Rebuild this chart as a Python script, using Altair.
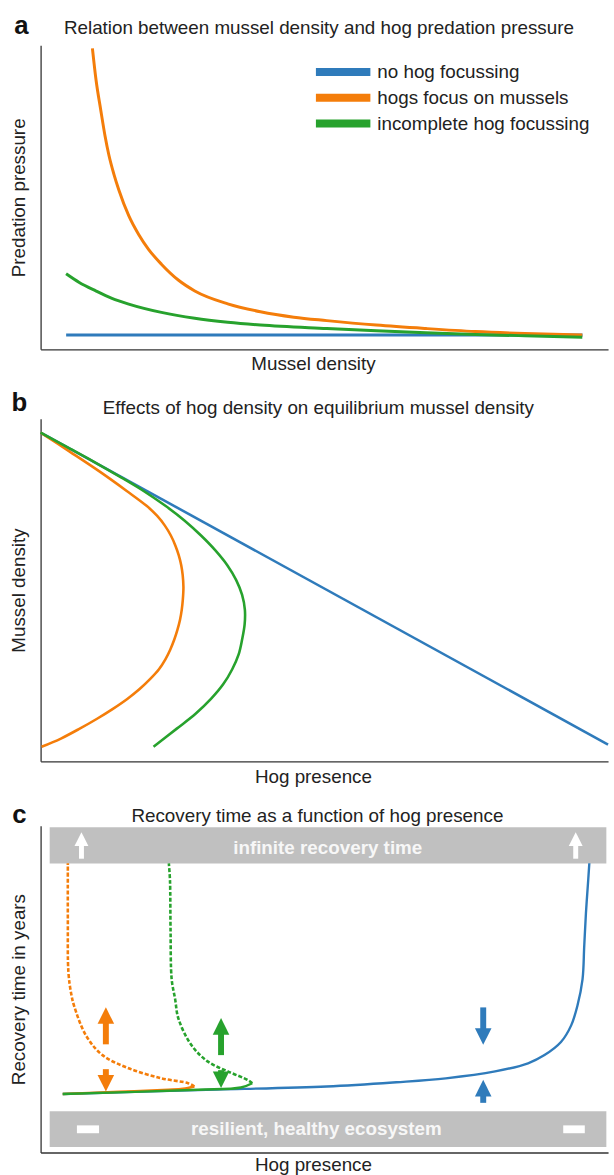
import altair as alt
import pandas as pd

FONT = "Liberation Sans"
TXT = "#222222"
FS = 19
BLUE, ORANGE, GREEN = "#2f7bbb", "#f47d0a", "#27a22d"
BAND = "#c0c0c0"
SERIES = ["no hog focussing", "hogs focus on mussels", "incomplete hog focussing"]
COLORS = [BLUE, ORANGE, GREEN]

# ---------------- panel a: predation pressure vs mussel density ----------------
a_blue_x = [0.45, 9.55]
a_blue_y = [0.47, 0.47]
a_orange_x = [0.913, 0.977, 1.059, 1.134, 1.204, 1.291, 1.379, 1.553, 1.728, 1.902, 2.129, 2.426,
              2.717, 3.298, 3.874, 4.462, 5.044, 5.916, 6.789, 7.661, 8.534, 9.546]
a_orange_y = [9.902, 8.860, 7.883, 7.036, 6.384, 5.765, 5.244, 4.397, 3.779, 3.290, 2.801, 2.280,
              1.922, 1.498, 1.238, 1.059, 0.945, 0.798, 0.684, 0.586, 0.521, 0.472]
a_green_x = [0.449, 0.681, 0.972, 1.257, 1.553, 2.129, 2.717, 3.298, 3.874, 5.044, 5.916, 6.789,
             7.661, 8.534, 9.546]
a_green_y = [2.485, 2.199, 1.922, 1.678, 1.489, 1.215, 1.020, 0.890, 0.798, 0.684, 0.609, 0.544,
             0.489, 0.446, 0.401]

# ---------------- panel b: equilibrium mussel density vs hog presence ----------------
b_blue_x = [0.0, 10.0]
b_blue_y = [9.595, 0.49]
b_orange_x = [0.000, 0.506, 1.030, 1.518, 1.867, 2.051, 2.190, 2.295, 2.374, 2.435, 2.478, 2.504,
              2.517, 2.506, 2.487, 2.457, 2.412, 2.356, 2.286, 2.199, 2.086, 1.928, 1.745, 1.527,
              1.274, 0.995, 0.689, 0.358, 0.017]
b_orange_y = [9.595, 9.046, 8.468, 7.890, 7.457, 7.168, 6.879, 6.590, 6.301, 6.012, 5.723, 5.434,
              5.087, 4.711, 4.422, 4.133, 3.844, 3.555, 3.266, 2.977, 2.688, 2.399, 2.110, 1.821,
              1.532, 1.243, 0.954, 0.665, 0.425]
b_green_x = [0.000, 0.445, 0.925, 1.379, 1.815, 2.199, 2.539, 2.827, 3.080, 3.290, 3.447, 3.551,
             3.600, 3.595, 3.551, 3.490, 3.377, 3.220, 3.002, 2.731, 2.400, 1.990]
b_green_y = [9.595, 9.191, 8.757, 8.324, 7.890, 7.457, 7.023, 6.590, 6.156, 5.723, 5.289, 4.855,
             4.422, 3.988, 3.555, 3.121, 2.688, 2.254, 1.821, 1.387, 0.954, 0.425]

# ---------------- panel c: recovery time vs hog presence ----------------
c_blue_x = [0.39, 2.77, 5.04, 6.27, 7.14, 8.01, 8.59, 8.88, 9.17, 9.35, 9.46, 9.55, 9.58, 9.61, 9.65, 9.67]
c_blue_y = [1.79, 1.91, 2.02, 2.15, 2.27, 2.48, 2.73, 2.98, 3.38, 3.89, 4.49, 5.30, 6.31, 7.32, 8.33, 8.85]
c_orange_stable_x = [0.39, 1.38, 2.25, 2.51, 2.71]
c_orange_stable_y = [1.79, 1.86, 1.92, 1.95, 2.02]
c_orange_unstable_x = [2.71, 2.60, 2.13, 1.55, 1.09, 0.80, 0.59, 0.54, 0.49, 0.48, 0.48]
c_orange_unstable_y = [2.02, 2.12, 2.27, 2.58, 2.98, 3.58, 4.49, 4.85, 5.52, 7.12, 8.85]
c_green_stable_x = [0.39, 2.77, 3.53, 3.73]
c_green_stable_y = [1.79, 1.92, 1.99, 2.12]
c_green_unstable_x = [3.73, 3.65, 3.30, 2.95, 2.66, 2.43, 2.37, 2.31, 2.29, 2.28, 2.26]
c_green_unstable_y = [2.12, 2.22, 2.48, 2.78, 3.28, 4.09, 4.70, 5.30, 6.82, 8.33, 8.85]

band_labels = ["infinite recovery time", "resilient, healthy ecosystem"]
band_x0 = [0.16, 0.16]
band_x1 = [9.97, 9.97]
band_y0 = [8.84, 0.17]
band_y1 = [9.95, 1.26]
band_text_x = [5.06, 4.86]
band_text_y = [9.33, 0.71]

# colored arrows: x, tail, head base, tip, direction
arrow_x = [1.15, 1.15, 3.18, 3.18, 7.80, 7.80]
arrow_tail = [3.31, 2.55, 2.98, 2.52, 4.44, 1.52]
arrow_base = [3.94, 2.37, 3.61, 2.48, 3.79, 1.72]
arrow_tip = [4.44, 1.87, 4.11, 1.97, 3.31, 2.22]
arrow_dir = ["up", "down", "up", "down", "down", "up"]
arrow_col = [ORANGE, ORANGE, GREEN, GREEN, BLUE, BLUE]

# white arrows in the "infinite" band and white dashes in the "resilient" band
white_arrow_x = [0.72, 9.43]
white_arrow_tail = [8.99, 8.99]
white_arrow_base = [9.38, 9.38]
white_arrow_tip = [9.80, 9.80]
dash_x0 = [0.64, 9.21]
dash_x1 = [1.03, 9.59]
dash_y0 = [0.59, 0.59]
dash_y1 = [0.83, 0.83]

UP = "M -1 1 L 0 -1 L 1 1 Z"
DOWN = "M -1 -1 L 0 1 L 1 -1 Z"


def rows(name, xs, ys, col=None, dashed=0):
    return [{"series": name, "i": i, "x": x, "y": y, "col": col, "dashed": dashed}
            for i, (x, y) in enumerate(zip(xs, ys))]


SC = alt.Scale(domain=[0, 10], nice=False, zero=False)


def xaxis(title, pad):
    return alt.Axis(title=title, labels=False, ticks=False, grid=False, domainColor="#333333",
                    domainWidth=1.3, titleFont=FONT, titleFontSize=FS, titleFontWeight="normal",
                    titleColor=TXT, titlePadding=pad, titleX=275, titleAlign="center")


def yaxis(title, pad):
    return alt.Axis(title=title, labels=False, ticks=False, grid=False, domainColor="#333333",
                    domainWidth=1.3, titleFont=FONT, titleFontSize=FS, titleFontWeight="normal",
                    titleColor=TXT, titlePadding=pad)


def header(letter, lx, ly, title, tx, ty):
    lab = alt.Chart(pd.DataFrame({"t": [letter]})).mark_text(
        font=FONT, fontSize=26, fontWeight="bold", color="#111111", baseline="middle", align="center"
    ).encode(x=alt.value(lx), y=alt.value(ly), text="t:N")
    tit = alt.Chart(pd.DataFrame({"t": [title]})).mark_text(
        font=FONT, fontSize=FS, color=TXT, baseline="middle", align="center"
    ).encode(x=alt.value(tx), y=alt.value(ty), text="t:N")
    return [lab, tit]


W = 573

# ---- panel a
a_df = pd.DataFrame(rows(SERIES[0], a_blue_x, a_blue_y) + rows(SERIES[1], a_orange_x, a_orange_y)
                    + rows(SERIES[2], a_green_x, a_green_y))
AXa = xaxis("Mussel density", 5.5)
AYa = yaxis("Predation pressure", 12)
a_lines = alt.Chart(a_df).mark_line(strokeWidth=3, interpolate="monotone").encode(
    x=alt.X("x:Q", scale=SC, axis=AXa),
    y=alt.Y("y:Q", scale=SC, axis=AYa),
    color=alt.Color("series:N", scale=alt.Scale(domain=SERIES, range=COLORS),
                    legend=alt.Legend(title=None, orient="none", legendX=274, legendY=18,
                                      symbolType="stroke", symbolSize=3025, symbolStrokeWidth=8,
                                      labelFont=FONT, labelFontSize=FS, labelColor=TXT,
                                      labelOffset=3, labelLimit=400, clipHeight=18, rowPadding=7,
                                      padding=0, symbolOpacity=1)),
    order=alt.Order("i:Q"),
)
panel_a = alt.layer(a_lines, *header("a", -19.5, -19, "Relation between mussel density and hog predation pressure",
                                     281, -17)).properties(width=W, height=307)

# ---- panel b
b_df = pd.DataFrame(rows("blue", b_blue_x, b_blue_y, BLUE) + rows("orange", b_orange_x, b_orange_y, ORANGE)
                    + rows("green", b_green_x, b_green_y, GREEN))
AXb = xaxis("Hog presence", 6)
AYb = yaxis("Mussel density", 12)
b_lines = alt.Chart(b_df).mark_line(strokeWidth=2.6, interpolate="catmull-rom").encode(
    x=alt.X("x:Q", scale=SC, axis=AXb),
    y=alt.Y("y:Q", scale=SC, axis=AYb),
    color=alt.Color("col:N", scale=None),
    detail="series:N",
    order=alt.Order("i:Q"),
)
panel_b = alt.layer(b_lines, *header("b", -21.5, -15.3, "Effects of hog density on equilibrium mussel density",
                                     280.5, -10.3)).properties(width=W, height=346)

# ---- panel c
AXc = xaxis("Hog presence", 3)
AYc = yaxis("Recovery time in years", 12)
bands = pd.DataFrame({"label": band_labels, "x0": band_x0, "x1": band_x1, "y0": band_y0, "y1": band_y1,
                      "tx": band_text_x, "ty": band_text_y})
c_band = alt.Chart(bands).mark_rect(color=BAND).encode(
    x=alt.X("x0:Q", scale=SC, axis=AXc), x2="x1:Q",
    y=alt.Y("y0:Q", scale=SC, axis=AYc), y2="y1:Q")
c_band_text = alt.Chart(bands).mark_text(font=FONT, fontSize=FS, fontWeight="bold", color="#f7f7f7",
                                         baseline="middle", align="center").encode(
    x=alt.X("tx:Q", scale=SC, axis=AXc), y=alt.Y("ty:Q", scale=SC, axis=AYc), text="label:N")

white = pd.DataFrame({"x": white_arrow_x, "tail": white_arrow_tail, "base": white_arrow_base,
                      "tip": white_arrow_tip})
c_white_shaft = alt.Chart(white).transform_calculate(hc="(datum.tip + datum.base) / 2").mark_rule(
    color="white", strokeWidth=5).encode(
    x=alt.X("x:Q", scale=SC, axis=AXc), y=alt.Y("tail:Q", scale=SC, axis=AYc), y2="hc:Q")
c_white_head = alt.Chart(white).transform_calculate(hc="(datum.tip + datum.base) / 2").mark_point(
    shape=UP, filled=True, size=196, opacity=1, color="white", strokeWidth=0).encode(
    x=alt.X("x:Q", scale=SC, axis=AXc), y=alt.Y("hc:Q", scale=SC, axis=AYc))
dashes = pd.DataFrame({"x0": dash_x0, "x1": dash_x1, "y0": dash_y0, "y1": dash_y1})
c_dash = alt.Chart(dashes).mark_rect(color="white").encode(
    x=alt.X("x0:Q", scale=SC, axis=AXc), x2="x1:Q", y=alt.Y("y0:Q", scale=SC, axis=AYc), y2="y1:Q")

c_df = pd.DataFrame(rows("blue", c_blue_x, c_blue_y, BLUE)
                    + rows("orange-s", c_orange_stable_x, c_orange_stable_y, ORANGE)
                    + rows("green-s", c_green_stable_x, c_green_stable_y, GREEN)
                    + rows("orange-u", c_orange_unstable_x, c_orange_unstable_y, ORANGE, 1)
                    + rows("green-u", c_green_unstable_x, c_green_unstable_y, GREEN, 1))
c_solid = alt.Chart(c_df).transform_filter("datum.dashed == 0").mark_line(
    strokeWidth=2.4, interpolate="catmull-rom").encode(
    x=alt.X("x:Q", scale=SC, axis=AXc), y=alt.Y("y:Q", scale=SC, axis=AYc),
    color=alt.Color("col:N", scale=None), detail="series:N", order=alt.Order("i:Q"))
c_dashed = alt.Chart(c_df).transform_filter("datum.dashed == 1").mark_line(
    strokeWidth=2.6, strokeDash=[4, 2], interpolate="catmull-rom").encode(
    x=alt.X("x:Q", scale=SC, axis=AXc), y=alt.Y("y:Q", scale=SC, axis=AYc),
    color=alt.Color("col:N", scale=None), detail="series:N", order=alt.Order("i:Q"))

arrows = pd.DataFrame({"x": arrow_x, "tail": arrow_tail, "base": arrow_base, "tip": arrow_tip,
                       "dir": arrow_dir, "col": arrow_col})
c_shaft = alt.Chart(arrows).transform_calculate(hc="(datum.tip + datum.base) / 2").mark_rule(
    strokeWidth=6).encode(
    x=alt.X("x:Q", scale=SC, axis=AXc), y=alt.Y("tail:Q", scale=SC, axis=AYc), y2="hc:Q",
    color=alt.Color("col:N", scale=None))
c_head_up = alt.Chart(arrows).transform_filter("datum.dir == 'up'").transform_calculate(
    hc="(datum.tip + datum.base) / 2").mark_point(shape=UP, filled=True, size=279, opacity=1,
                                                   strokeWidth=0).encode(
    x=alt.X("x:Q", scale=SC, axis=AXc), y=alt.Y("hc:Q", scale=SC, axis=AYc),
    color=alt.Color("col:N", scale=None))
c_head_down = alt.Chart(arrows).transform_filter("datum.dir == 'down'").transform_calculate(
    hc="(datum.tip + datum.base) / 2").mark_point(shape=DOWN, filled=True, size=279, opacity=1,
                                                   strokeWidth=0).encode(
    x=alt.X("x:Q", scale=SC, axis=AXc), y=alt.Y("hc:Q", scale=SC, axis=AYc),
    color=alt.Color("col:N", scale=None))

panel_c = alt.layer(c_band, c_band_text, c_white_shaft, c_white_head, c_dash, c_solid, c_dashed,
                    c_shaft, c_head_up, c_head_down,
                    *header("c", -21.5, -11, "Recovery time as a function of hog presence", 279.5, -10)
                    ).properties(width=W, height=330)

chart = alt.vconcat(panel_a, panel_b, panel_c, spacing=16).resolve_scale(
    color="independent").resolve_legend(color="independent").properties(
    padding={"left": 10, "top": 8, "right": 0, "bottom": 0}, background="white"
).configure_view(stroke=None)

chart.save("out.html", embed_options={"renderer": "svg", "actions": False})
